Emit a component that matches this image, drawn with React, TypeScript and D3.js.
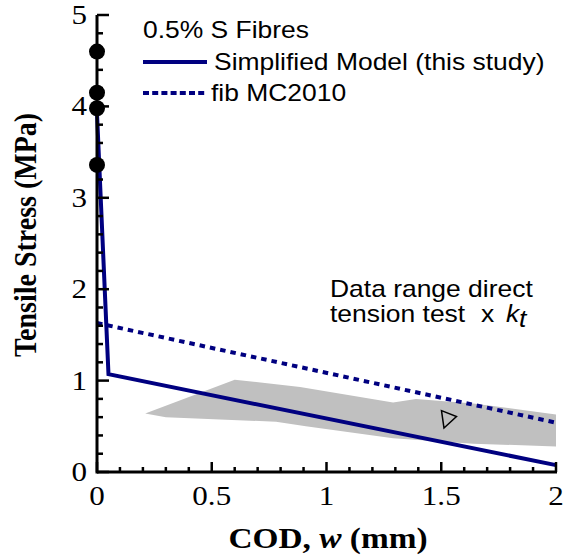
import React from "react";
import * as d3 from "d3";

const W = 569;
const H = 556;

// Simplified model (this study)
const modelW = [0, 0.05, 2];
const modelS = [3.92, 1.07, 0.075];
// fib MC2010
const fibW = [0, 2];
const fibS = [1.63, 0.54];
// Test data points at w = 0
const dotS = [4.6, 4.15, 3.98, 3.36];
// Data range band (direct tension test x kt)
const bandUpperW = [0.21, 0.6, 0.885, 1.29, 1.39, 1.64, 2.0];
const bandUpperS = [0.64, 1.01, 0.93, 0.76, 0.8, 0.75, 0.63];
const bandLowerW = [0.21, 0.3, 0.78, 0.91, 1.29, 1.64, 2.0];
const bandLowerS = [0.64, 0.6, 0.55, 0.5, 0.37, 0.31, 0.28];
// Triangle marker
const triW = [1.525];
const triS = [0.59];

const xTicks = [0, 0.5, 1, 1.5, 2];
const xTickLabels = ["0", "0.5", "1", "1.5", "2"];
const yTicks = [0, 1, 2, 3, 4, 5];
const yTickLabels = ["0", "1", "2", "3", "4", "5"];

const NAVY = "#000080";
const SX = 1.15;

function T(props: any) {
  const { x, y, size, family, weight, style, anchor, rotate, children } = props;
  const tr = `translate(${x},${y}) scale(${SX},1)` + (rotate ? ` rotate(${rotate})` : "");
  return (
    <text
      transform={tr}
      fontSize={size}
      fontFamily={family}
      fontWeight={weight || "normal"}
      fontStyle={style || "normal"}
      textAnchor={anchor || "start"}
      fill="#000"
    >
      {children}
    </text>
  );
}

export default function App() {
  const x = d3.scaleLinear().domain([0, 2]).range([97, 556]);
  const y = d3.scaleLinear().domain([0, 5]).range([472, 15]);

  const line = d3
    .line<[number, number]>()
    .x((d) => x(d[0]))
    .y((d) => y(d[1]));

  const model: [number, number][] = modelW.map((w, i) => [w, modelS[i]]);
  const fib: [number, number][] = fibW.map((w, i) => [w, fibS[i]]);
  const band: [number, number][] = [
    ...bandUpperW.map((w, i) => [w, bandUpperS[i]] as [number, number]),
    ...bandLowerW
      .map((w, i) => [w, bandLowerS[i]] as [number, number])
      .reverse(),
  ];

  const xMinor = d3.range(0, 2.0001, 0.1);
  const yMinor = d3.range(0, 5.0001, 0.2);
  const serif = "'Liberation Serif', 'Times New Roman', serif";
  const sans = "'Liberation Sans', Arial, sans-serif";

  const tx = x(triW[0]);
  const ty = y(triS[0]);

  return (
    <svg
      width={W}
      height={H}
      style={{ position: "absolute", left: 0, top: 0, background: "#fff" }}
    >
      <rect width={W} height={H} fill="#fff" />
      {/* band */}
      <path d={line(band) + "Z"} fill="#c0c0c0" stroke="none" />
      {/* fib MC2010 */}
      <path
        d={line(fib) || ""}
        fill="none"
        stroke={NAVY}
        strokeWidth={4}
        strokeDasharray="5.5,5"
      />
      {/* model */}
      <path d={line(model) || ""} fill="none" stroke={NAVY} strokeWidth={4} />
      {/* triangle */}
      <path
        d={`M${tx - 5.5},${ty - 7.5} L${tx + 9.5},${ty - 1.5} L${tx - 3},${ty + 10} Z`}
        fill="none"
        stroke="#000"
        strokeWidth={1.5}
      />
      {/* axes */}
      <line x1={x(0)} x2={x(2) + 1} y1={y(0)} y2={y(0)} stroke="#000" strokeWidth={3} />
      <line x1={x(0)} x2={x(0)} y1={y(0) + 1.5} y2={y(5)} stroke="#000" strokeWidth={3} />
      {xMinor.map((v, i) => {
        const major = Math.abs(v * 2 - Math.round(v * 2)) < 1e-6;
        return (
          <line
            key={"xm" + i}
            x1={x(v)}
            x2={x(v)}
            y1={y(0)}
            y2={y(0) - (major ? 10 : 5)}
            stroke="#000"
            strokeWidth={2.5}
          />
        );
      })}
      {yMinor.map((v, i) => {
        const major = Math.abs(v - Math.round(v)) < 1e-6;
        return (
          <line
            key={"ym" + i}
            x1={x(0)}
            x2={x(0) + (major ? 12 : 6)}
            y1={y(v)}
            y2={y(v)}
            stroke="#000"
            strokeWidth={2.5}
          />
        );
      })}
      {/* dots */}
      {dotS.map((s, i) => (
        <circle key={"d" + i} cx={x(0)} cy={y(s)} r={8} fill="#000" />
      ))}
      {/* tick labels */}
      {xTicks.map((v, i) => (
        <T key={"xl" + i} x={x(v)} y={505} size={27} family={serif} anchor="middle">
          {xTickLabels[i]}
        </T>
      ))}
      {yTicks.map((v, i) => (
        <T key={"yl" + i} x={87} y={y(v) + 9} size={27} family={serif} anchor="end">
          {yTickLabels[i]}
        </T>
      ))}
      {/* axis titles */}
      <T x={328} y={548} size={29} family={serif} weight="bold" anchor="middle">
        COD, <tspan fontStyle="italic">w</tspan> (mm)
      </T>
      <T x={36} y={235} size={28} family={serif} weight="bold" anchor="middle" rotate={-90}>
        Tensile Stress (MPa)
      </T>
      {/* legend */}
      <T x={143} y={38} size={23} family={sans}>
        0.5% S Fibres
      </T>
      <line x1={143} x2={207} y1={62} y2={62} stroke={NAVY} strokeWidth={4} />
      <T x={214} y={70} size={23} family={sans}>
        Simplified Model (this study)
      </T>
      <line x1={143} x2={207} y1={93} y2={93} stroke={NAVY} strokeWidth={4} strokeDasharray="6,3.2" />
      <T x={211} y={101} size={23} family={sans}>
        fib MC2010
      </T>
      {/* annotation */}
      <T x={330} y={297} size={23} family={sans}>
        Data range direct
      </T>
      <T x={330} y={322} size={23} family={sans}>
        tension test
      </T>
      <T x={481} y={322} size={23} family={sans}>
        x
      </T>
      <T x={506} y={322} size={23} family={sans} style="italic">
        k
      </T>
      <T x={519} y={327} size={23} family={sans} style="italic">
        t
      </T>
    </svg>
  );
}
